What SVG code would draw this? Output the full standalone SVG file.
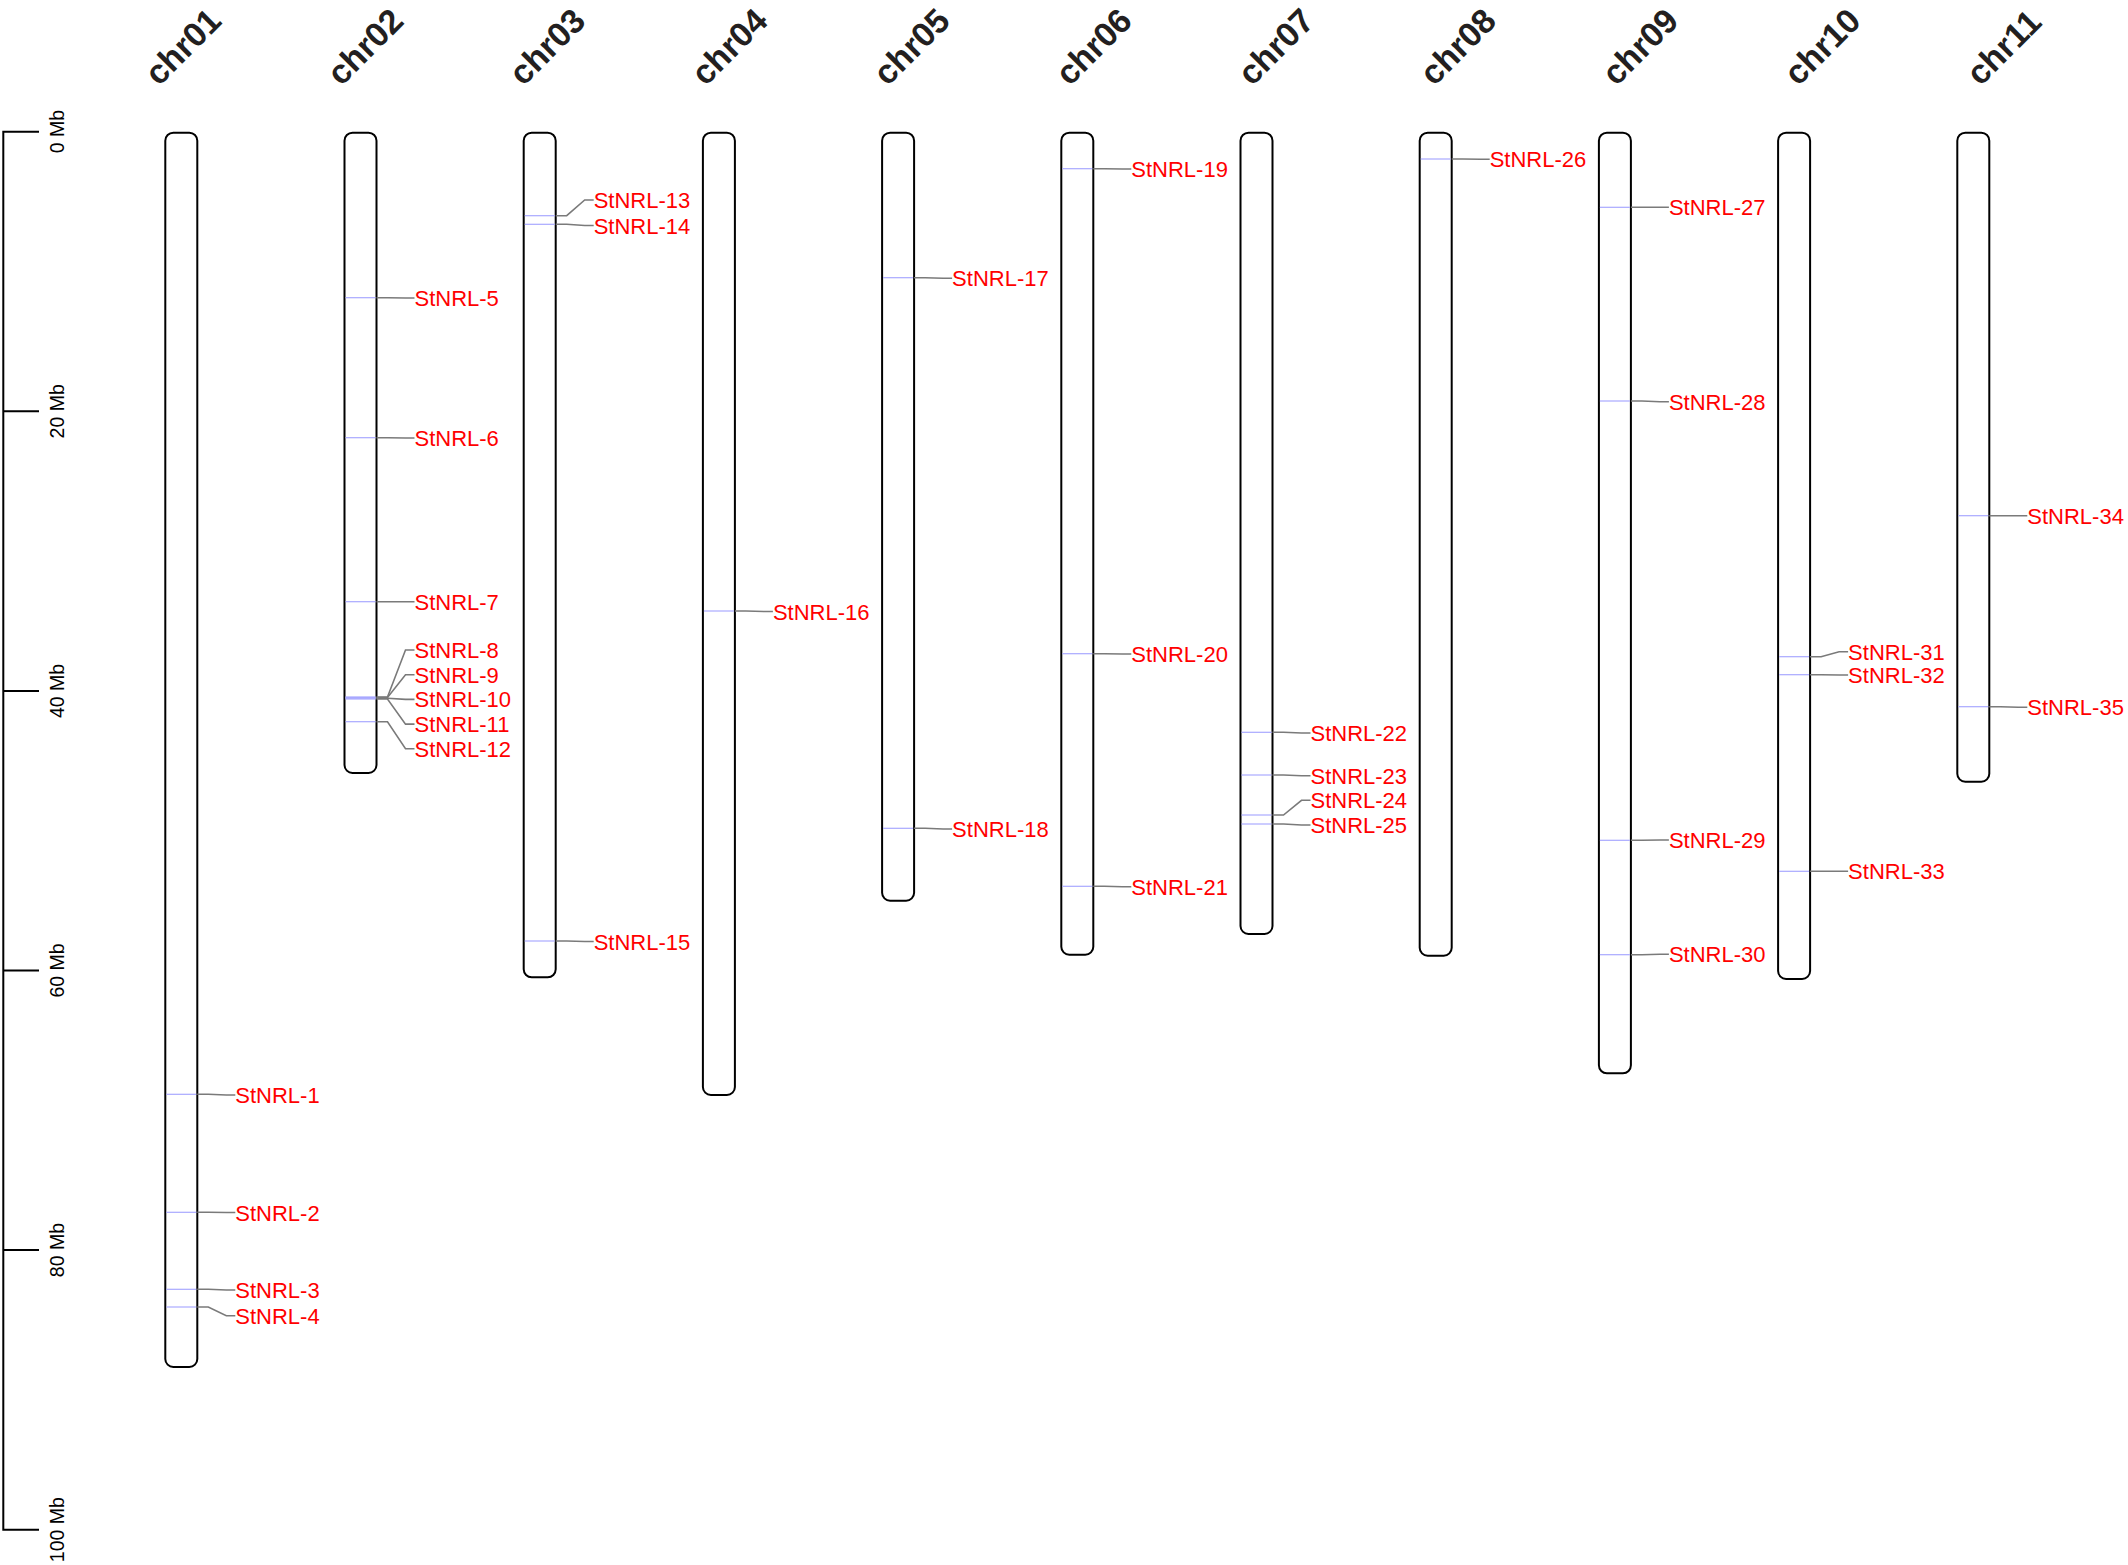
<svg xmlns="http://www.w3.org/2000/svg" width="2128" height="1565" viewBox="0 0 2128 1565">
<style>
.chr{fill:#fff;stroke:#000;stroke-width:2}
.ttl{font-family:"Liberation Sans",Arial,sans-serif;font-weight:bold;font-size:34px;fill:#231f20}
.mk{stroke:#a9a9ff;stroke-width:1.2}
.lb{font-family:"Liberation Sans",Arial,sans-serif;font-size:22px;fill:#ff0000}
.cn{fill:none;stroke:#7a7a7a;stroke-width:1.6}
.sc{fill:none;stroke:#000;stroke-width:2}
.sl{font-family:"Liberation Sans",Arial,sans-serif;font-size:19.5px;fill:#000;text-anchor:middle}
</style>
<rect width="2128" height="1565" fill="#fff"/>
<g id="scale">
<path class="sc" d="M39,131.7H3.3V1529.7H39M3.3,411.3H39M3.3,690.9H39M3.3,970.5H39M3.3,1250.1H39"/>
<text class="sl" transform="translate(63.5,131.7) rotate(-90)">0 Mb</text>
<text class="sl" transform="translate(63.5,411.3) rotate(-90)">20 Mb</text>
<text class="sl" transform="translate(63.5,690.9) rotate(-90)">40 Mb</text>
<text class="sl" transform="translate(63.5,970.5) rotate(-90)">60 Mb</text>
<text class="sl" transform="translate(63.5,1250.1) rotate(-90)">80 Mb</text>
<text class="sl" transform="translate(63.5,1529.7) rotate(-90)">100 Mb</text>
</g>
<g id="chr01"><rect class="chr" x="165.3" y="132.7" width="32" height="1234.3" rx="8"/><text class="ttl" transform="translate(159,87) rotate(-45)">chr01</text></g>
<g id="chr02"><rect class="chr" x="344.5" y="132.7" width="32" height="640.3" rx="8"/><text class="ttl" transform="translate(341.15,87) rotate(-45)">chr02</text></g>
<g id="chr03"><rect class="chr" x="523.7" y="132.7" width="32" height="844.6" rx="8"/><text class="ttl" transform="translate(523.3,87) rotate(-45)">chr03</text></g>
<g id="chr04"><rect class="chr" x="702.9" y="132.7" width="32" height="962.3" rx="8"/><text class="ttl" transform="translate(705.45,87) rotate(-45)">chr04</text></g>
<g id="chr05"><rect class="chr" x="882.1" y="132.7" width="32" height="768" rx="8"/><text class="ttl" transform="translate(887.6,87) rotate(-45)">chr05</text></g>
<g id="chr06"><rect class="chr" x="1061.3" y="132.7" width="32" height="822" rx="8"/><text class="ttl" transform="translate(1069.75,87) rotate(-45)">chr06</text></g>
<g id="chr07"><rect class="chr" x="1240.5" y="132.7" width="32" height="801.3" rx="8"/><text class="ttl" transform="translate(1251.9,87) rotate(-45)">chr07</text></g>
<g id="chr08"><rect class="chr" x="1419.7" y="132.7" width="32" height="823" rx="8"/><text class="ttl" transform="translate(1434.05,87) rotate(-45)">chr08</text></g>
<g id="chr09"><rect class="chr" x="1598.9" y="132.7" width="32" height="940.6" rx="8"/><text class="ttl" transform="translate(1616.2,87) rotate(-45)">chr09</text></g>
<g id="chr10"><rect class="chr" x="1778.1" y="132.7" width="32" height="846.3" rx="8"/><text class="ttl" transform="translate(1798.35,87) rotate(-45)">chr10</text></g>
<g id="chr11"><rect class="chr" x="1957.3" y="132.7" width="32" height="649" rx="8"/><text class="ttl" transform="translate(1980.5,87) rotate(-45)">chr11</text></g>
<g id="connectors">
<path class="cn" d="M197.3,1094.3L208.3,1094.3L226.3,1095L235.3,1095"/>
<path class="cn" d="M197.3,1212.3L208.3,1212.3L226.3,1212.5L235.3,1212.5"/>
<path class="cn" d="M197.3,1289.3L208.3,1289.3L226.3,1290L235.3,1290"/>
<path class="cn" d="M197.3,1307L208.3,1307L226.3,1315.7L235.3,1315.7"/>
<path class="cn" d="M376.5,297.7L387.5,297.7L405.5,298L414.5,298"/>
<path class="cn" d="M376.5,437.7L387.5,437.7L405.5,438L414.5,438"/>
<path class="cn" d="M376.5,601.7L387.5,601.7L405.5,601.7L414.5,601.7"/>
<path class="cn" d="M376.5,697L387.5,697L405.5,650L414.5,650"/>
<path class="cn" d="M376.5,697.5L387.5,697.5L405.5,674.7L414.5,674.7"/>
<path class="cn" d="M376.5,698.3L387.5,698.3L405.5,699.4L414.5,699.4"/>
<path class="cn" d="M376.5,699L387.5,699L405.5,724.1L414.5,724.1"/>
<path class="cn" d="M376.5,721.7L387.5,721.7L405.5,748.8L414.5,748.8"/>
<path class="cn" d="M555.7,215.7L566.7,215.7L584.7,200L593.7,200"/>
<path class="cn" d="M555.7,224.3L566.7,224.3L584.7,225.5L593.7,225.5"/>
<path class="cn" d="M555.7,941L566.7,941L584.7,941.5L593.7,941.5"/>
<path class="cn" d="M734.9,611L745.9,611L763.9,611.5L772.9,611.5"/>
<path class="cn" d="M914.1,277.7L925.1,277.7L943.1,278.3L952.1,278.3"/>
<path class="cn" d="M914.1,828.3L925.1,828.3L943.1,829L952.1,829"/>
<path class="cn" d="M1093.3,168.7L1104.3,168.7L1122.3,169L1131.3,169"/>
<path class="cn" d="M1093.3,653.7L1104.3,653.7L1122.3,654L1131.3,654"/>
<path class="cn" d="M1093.3,886.3L1104.3,886.3L1122.3,886.7L1131.3,886.7"/>
<path class="cn" d="M1272.5,732.3L1283.5,732.3L1301.5,733L1310.5,733"/>
<path class="cn" d="M1272.5,775L1283.5,775L1301.5,775.7L1310.5,775.7"/>
<path class="cn" d="M1272.5,815L1283.5,815L1301.5,800.3L1310.5,800.3"/>
<path class="cn" d="M1272.5,824L1283.5,824L1301.5,825L1310.5,825"/>
<path class="cn" d="M1451.7,159L1462.7,159L1480.7,159.3L1489.7,159.3"/>
<path class="cn" d="M1630.9,207.3L1641.9,207.3L1659.9,207.3L1668.9,207.3"/>
<path class="cn" d="M1630.9,401L1641.9,401L1659.9,401.7L1668.9,401.7"/>
<path class="cn" d="M1630.9,840.3L1641.9,840.3L1659.9,840L1668.9,840"/>
<path class="cn" d="M1630.9,954.7L1641.9,954.7L1659.9,954.3L1668.9,954.3"/>
<path class="cn" d="M1810.1,656.7L1821.1,656.7L1839.1,651.7L1848.1,651.7"/>
<path class="cn" d="M1810.1,674.7L1821.1,674.7L1839.1,675L1848.1,675"/>
<path class="cn" d="M1810.1,871.3L1821.1,871.3L1839.1,871.3L1848.1,871.3"/>
<path class="cn" d="M1989.3,515.7L2000.3,515.7L2018.3,515.7L2027.3,515.7"/>
<path class="cn" d="M1989.3,706.7L2000.3,706.7L2018.3,707.3L2027.3,707.3"/>
</g>
<g id="StNRL-1"><line class="mk" x1="166.3" x2="196.3" y1="1094.3" y2="1094.3"/><text class="lb" x="235.3" y="1103">StNRL-1</text></g>
<g id="StNRL-2"><line class="mk" x1="166.3" x2="196.3" y1="1212.3" y2="1212.3"/><text class="lb" x="235.3" y="1220.5">StNRL-2</text></g>
<g id="StNRL-3"><line class="mk" x1="166.3" x2="196.3" y1="1289.3" y2="1289.3"/><text class="lb" x="235.3" y="1298">StNRL-3</text></g>
<g id="StNRL-4"><line class="mk" x1="166.3" x2="196.3" y1="1307" y2="1307"/><text class="lb" x="235.3" y="1323.7">StNRL-4</text></g>
<g id="StNRL-5"><line class="mk" x1="345.5" x2="375.5" y1="297.7" y2="297.7"/><text class="lb" x="414.5" y="306">StNRL-5</text></g>
<g id="StNRL-6"><line class="mk" x1="345.5" x2="375.5" y1="437.7" y2="437.7"/><text class="lb" x="414.5" y="446">StNRL-6</text></g>
<g id="StNRL-7"><line class="mk" x1="345.5" x2="375.5" y1="601.7" y2="601.7"/><text class="lb" x="414.5" y="609.7">StNRL-7</text></g>
<g id="StNRL-8"><line class="mk" x1="345.5" x2="375.5" y1="697" y2="697"/><text class="lb" x="414.5" y="658">StNRL-8</text></g>
<g id="StNRL-9"><line class="mk" x1="345.5" x2="375.5" y1="697.5" y2="697.5"/><text class="lb" x="414.5" y="682.7">StNRL-9</text></g>
<g id="StNRL-10"><line class="mk" x1="345.5" x2="375.5" y1="698.3" y2="698.3"/><text class="lb" x="414.5" y="707.4">StNRL-10</text></g>
<g id="StNRL-11"><line class="mk" x1="345.5" x2="375.5" y1="699" y2="699"/><text class="lb" x="414.5" y="732.1">StNRL-11</text></g>
<g id="StNRL-12"><line class="mk" x1="345.5" x2="375.5" y1="721.7" y2="721.7"/><text class="lb" x="414.5" y="756.8">StNRL-12</text></g>
<g id="StNRL-13"><line class="mk" x1="524.7" x2="554.7" y1="215.7" y2="215.7"/><text class="lb" x="593.7" y="208">StNRL-13</text></g>
<g id="StNRL-14"><line class="mk" x1="524.7" x2="554.7" y1="224.3" y2="224.3"/><text class="lb" x="593.7" y="233.5">StNRL-14</text></g>
<g id="StNRL-15"><line class="mk" x1="524.7" x2="554.7" y1="941" y2="941"/><text class="lb" x="593.7" y="949.5">StNRL-15</text></g>
<g id="StNRL-16"><line class="mk" x1="703.9" x2="733.9" y1="611" y2="611"/><text class="lb" x="772.9" y="619.5">StNRL-16</text></g>
<g id="StNRL-17"><line class="mk" x1="883.1" x2="913.1" y1="277.7" y2="277.7"/><text class="lb" x="952.1" y="286.3">StNRL-17</text></g>
<g id="StNRL-18"><line class="mk" x1="883.1" x2="913.1" y1="828.3" y2="828.3"/><text class="lb" x="952.1" y="837">StNRL-18</text></g>
<g id="StNRL-19"><line class="mk" x1="1062.3" x2="1092.3" y1="168.7" y2="168.7"/><text class="lb" x="1131.3" y="177">StNRL-19</text></g>
<g id="StNRL-20"><line class="mk" x1="1062.3" x2="1092.3" y1="653.7" y2="653.7"/><text class="lb" x="1131.3" y="662">StNRL-20</text></g>
<g id="StNRL-21"><line class="mk" x1="1062.3" x2="1092.3" y1="886.3" y2="886.3"/><text class="lb" x="1131.3" y="894.7">StNRL-21</text></g>
<g id="StNRL-22"><line class="mk" x1="1241.5" x2="1271.5" y1="732.3" y2="732.3"/><text class="lb" x="1310.5" y="741">StNRL-22</text></g>
<g id="StNRL-23"><line class="mk" x1="1241.5" x2="1271.5" y1="775" y2="775"/><text class="lb" x="1310.5" y="783.7">StNRL-23</text></g>
<g id="StNRL-24"><line class="mk" x1="1241.5" x2="1271.5" y1="815" y2="815"/><text class="lb" x="1310.5" y="808.3">StNRL-24</text></g>
<g id="StNRL-25"><line class="mk" x1="1241.5" x2="1271.5" y1="824" y2="824"/><text class="lb" x="1310.5" y="833">StNRL-25</text></g>
<g id="StNRL-26"><line class="mk" x1="1420.7" x2="1450.7" y1="159" y2="159"/><text class="lb" x="1489.7" y="167.3">StNRL-26</text></g>
<g id="StNRL-27"><line class="mk" x1="1599.9" x2="1629.9" y1="207.3" y2="207.3"/><text class="lb" x="1668.9" y="215.3">StNRL-27</text></g>
<g id="StNRL-28"><line class="mk" x1="1599.9" x2="1629.9" y1="401" y2="401"/><text class="lb" x="1668.9" y="409.7">StNRL-28</text></g>
<g id="StNRL-29"><line class="mk" x1="1599.9" x2="1629.9" y1="840.3" y2="840.3"/><text class="lb" x="1668.9" y="848">StNRL-29</text></g>
<g id="StNRL-30"><line class="mk" x1="1599.9" x2="1629.9" y1="954.7" y2="954.7"/><text class="lb" x="1668.9" y="962.3">StNRL-30</text></g>
<g id="StNRL-31"><line class="mk" x1="1779.1" x2="1809.1" y1="656.7" y2="656.7"/><text class="lb" x="1848.1" y="659.7">StNRL-31</text></g>
<g id="StNRL-32"><line class="mk" x1="1779.1" x2="1809.1" y1="674.7" y2="674.7"/><text class="lb" x="1848.1" y="683">StNRL-32</text></g>
<g id="StNRL-33"><line class="mk" x1="1779.1" x2="1809.1" y1="871.3" y2="871.3"/><text class="lb" x="1848.1" y="879.3">StNRL-33</text></g>
<g id="StNRL-34"><line class="mk" x1="1958.3" x2="1988.3" y1="515.7" y2="515.7"/><text class="lb" x="2027.3" y="523.7">StNRL-34</text></g>
<g id="StNRL-35"><line class="mk" x1="1958.3" x2="1988.3" y1="706.7" y2="706.7"/><text class="lb" x="2027.3" y="715.3">StNRL-35</text></g>
</svg>
